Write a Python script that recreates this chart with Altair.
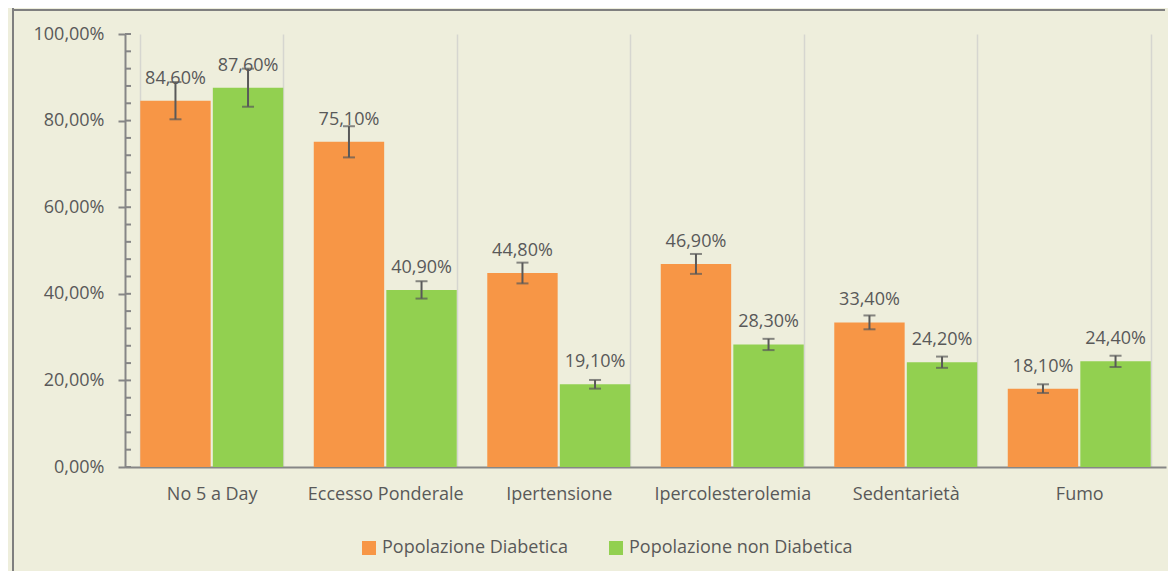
import altair as alt
import pandas as pd

categories = ["No 5 a Day", "Eccesso Ponderale", "Ipertensione",
              "Ipercolesterolemia", "Sedentarietà", "Fumo"]
series = ["Popolazione Diabetica", "Popolazione non Diabetica"]
diabetic = [84.6, 75.1, 44.8, 46.9, 33.4, 18.1]
non_diabetic = [87.6, 40.9, 19.1, 28.3, 24.2, 24.4]
diabetic_err = [4.3, 3.6, 2.4, 2.3, 1.6, 1.0]
non_diabetic_err = [4.4, 2.0, 1.0, 1.3, 1.3, 1.3]
y_ticks = [0, 20, 40, 60, 80, 100]
minor_ticks = list(range(0, 101, 4))
colors = ["#F79646", "#92D050"]

rows = []
for s, vals, errs in [(series[0], diabetic, diabetic_err),
                      (series[1], non_diabetic, non_diabetic_err)]:
    for c, v, e in zip(categories, vals, errs):
        rows.append({"cat": c, "series": s, "value": v,
                     "lo": v - e, "hi": v + e,
                     "label": f"{v:.2f}".replace(".", ",") + "%"})
df = pd.DataFrame(rows)

FONT = "Open Sans"
FS = 18
TXT = "#595959"
AX = "#868686"
W, H = 1041, 433

x = alt.X("cat:N", sort=categories,
          scale=alt.Scale(paddingInner=0.176, paddingOuter=0.088),
          axis=alt.Axis(title=None, labelAngle=0, labelFontSize=FS, labelColor=TXT,
                        labelFont=FONT, labelPadding=18, ticks=False, labelLimit=0,
                        tickBand="extent", grid=True, gridColor="#D6D6D0",
                        gridWidth=1.5, domainColor=AX, domainWidth=2))
xo = alt.XOffset("series:N", sort=series, scale=alt.Scale(paddingInner=0.03))
y = alt.Y("value:Q", scale=alt.Scale(domain=[0, 100], nice=False),
          axis=alt.Axis(title=None, values=y_ticks,
                        labelExpr="replace(format(datum.value, '.2f'), '.', ',') + '%'",
                        labelFontSize=FS, labelColor=TXT, labelFont=FONT,
                        labelPadding=14, tickSize=7, tickColor=AX, tickWidth=2,
                        domainColor=AX, domainWidth=2, grid=False))

base = alt.Chart(df)

bars = base.mark_bar().encode(
    x=x, xOffset=xo, y=y,
    color=alt.Color("series:N", sort=series,
                    scale=alt.Scale(domain=series, range=colors),
                    legend=alt.Legend(title=None, orient="none", direction="horizontal",
                                      legendX=235, legendY=505, padding=0,
                                      symbolType="square", symbolSize=196,
                                      symbolStrokeWidth=0, labelFontSize=FS,
                                      labelColor=TXT, labelFont=FONT, labelLimit=0,
                                      labelOffset=4, columnPadding=39)),
)

err = base.mark_rule(color=TXT, strokeWidth=2).encode(
    x=x, xOffset=xo, y="lo:Q", y2="hi:Q")
cap_lo = base.mark_tick(color=TXT, size=12, thickness=2, orient="horizontal").encode(
    x=x, xOffset=xo, y="lo:Q")
cap_hi = base.mark_tick(color=TXT, size=12, thickness=2, orient="horizontal").encode(
    x=x, xOffset=xo, y="hi:Q")

labels = base.mark_text(dy=-17, baseline="alphabetic", fontSize=FS, color=TXT,
                        font=FONT).encode(x=x, xOffset=xo, y="value:Q", text="label:N")

minor = alt.Chart(pd.DataFrame({"t": minor_ticks})).mark_rule(
    color=AX, strokeWidth=2).encode(x=alt.value(0), x2=alt.value(6), y="t:Q")

frame_left = alt.Chart(pd.DataFrame({"a": [0]})).mark_rule(
    color="#7F7F7F", strokeWidth=2).encode(
    x=alt.value(-112), y=alt.value(-26), y2=alt.value(540))
frame_top = alt.Chart(pd.DataFrame({"a": [0]})).mark_rule(
    color="#7F7F7F", strokeWidth=2).encode(
    x=alt.value(-113), x2=alt.value(1040), y=alt.value(-24))

chart = alt.layer(frame_left, frame_top, bars, err, cap_lo, cap_hi, labels, minor).properties(
    width=W, height=H,
    autosize=alt.AutoSizeParams(type="none"),
    padding={"left": 117, "top": 26, "right": 2, "bottom": 104},
    background="#EEEEDC",
).configure_view(stroke=None)

chart.save("out.html", embed_options={"renderer": "svg", "actions": False})
